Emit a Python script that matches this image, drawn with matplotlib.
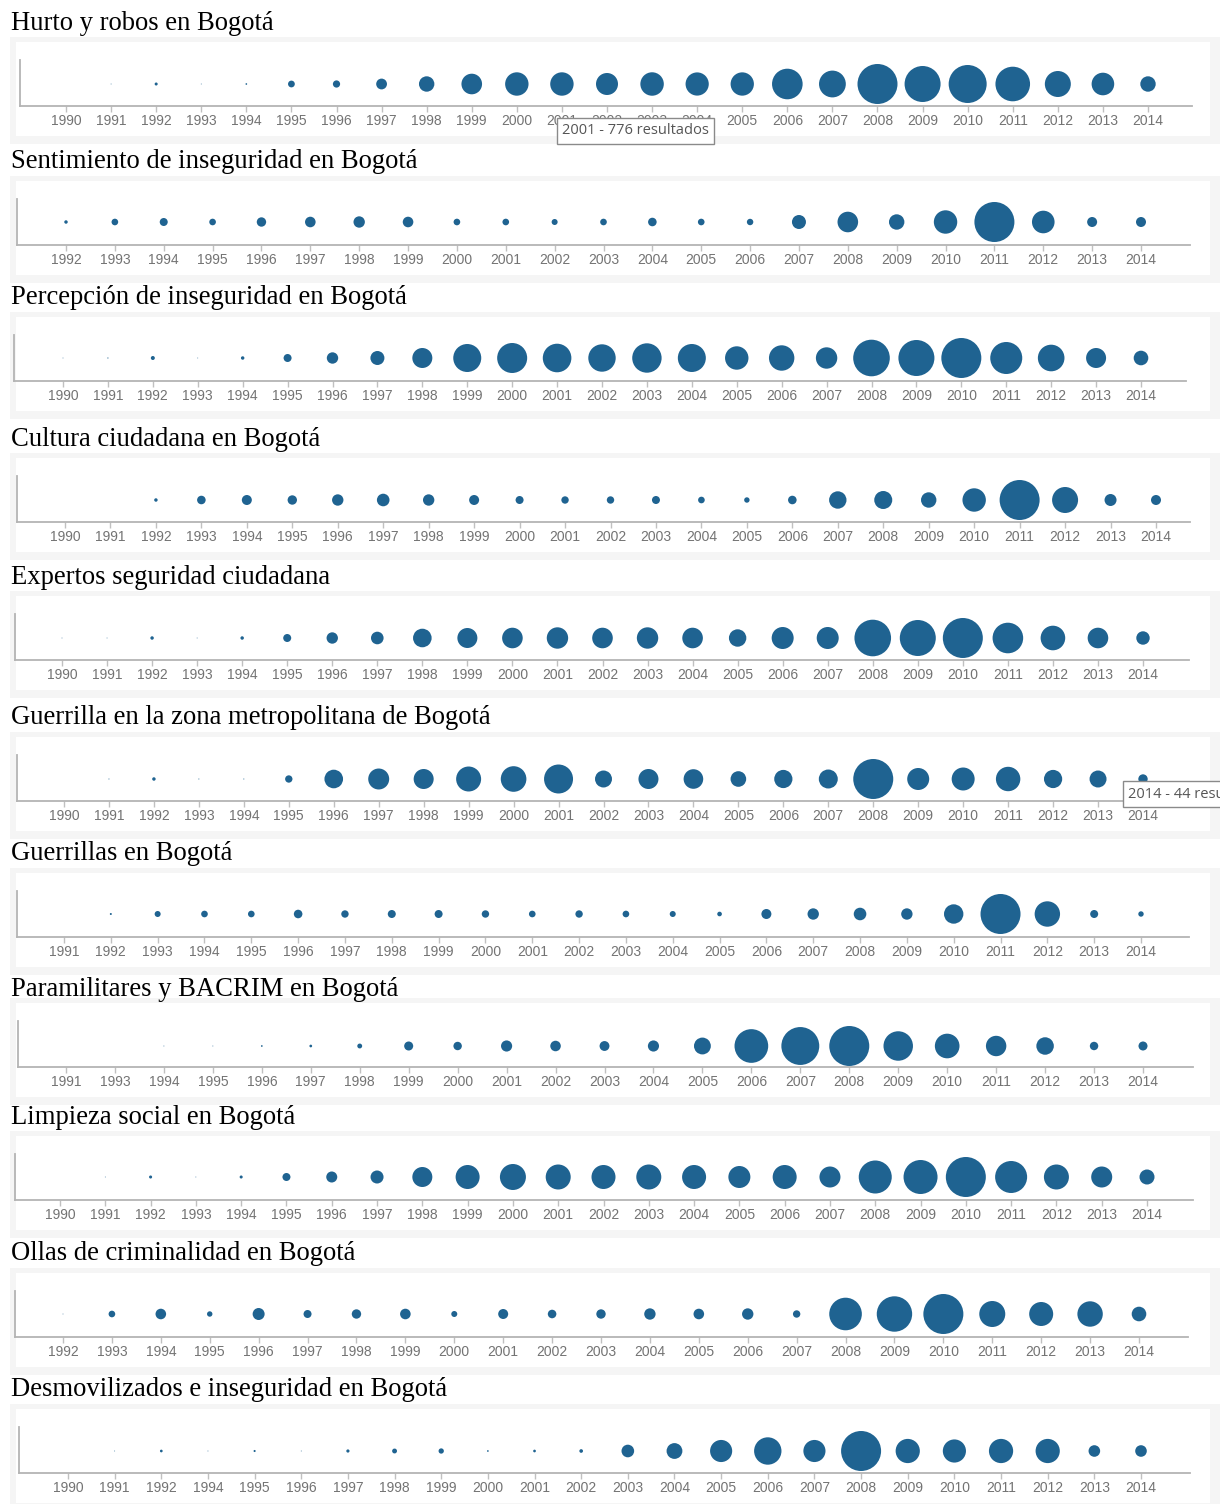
import numpy as np
import matplotlib.pyplot as plt
from matplotlib.patches import Rectangle

W, H = 1220, 1504

# ---- data: estimated number of results per year for each search ----
titles = [
    "Hurto y robos en Bogotá",
    "Sentimiento de inseguridad en Bogotá",
    "Percepción de inseguridad en Bogotá",
    "Cultura ciudadana en Bogotá",
    "Expertos seguridad ciudadana",
    "Guerrilla en la zona metropolitana de Bogotá",
    "Guerrillas en Bogotá",
    "Paramilitares y BACRIM en Bogotá",
    "Limpieza social en Bogotá",
    "Ollas de criminalidad en Bogotá",
    "Desmovilizados e inseguridad en Bogotá",
]

years_1990 = list(range(1990, 2015))
years_1991 = list(range(1991, 2015))
years_1992 = list(range(1992, 2015))
years_paramilitares = [1991] + list(range(1993, 2015))
years_desmovilizados = [1990, 1991, 1992] + list(range(1994, 2015))

hurto = [0, 1, 13, 1, 4, 65, 74, 165, 336, 602, 776, 776, 686, 780, 763,
         770, 1327, 1018, 2268, 1837, 2047, 1697, 958, 724, 336]
sentimiento = [9, 33, 48, 33, 66, 84, 97, 84, 33, 33, 27, 33, 55, 33, 31,
               147, 318, 178, 411, 1200, 383, 75, 75]
percepcion = [0.5, 1, 12, 0.5, 9, 48, 97, 147, 300, 588, 675, 613, 563, 648, 588,
              411, 484, 343, 1005, 972, 1200, 768, 531, 300, 160]
cultura = [0, 0, 9, 55, 75, 66, 97, 119, 97, 75, 48, 41, 41, 48, 33,
           22, 55, 227, 243, 178, 411, 1200, 507, 108, 75]
expertos = [0.5, 0.5, 9, 0.5, 9, 48, 97, 119, 259, 300, 318, 343, 318, 343, 318,
            227, 363, 363, 1005, 972, 1200, 702, 454, 318, 135]
guerrilla_metro = [0, 0.5, 6, 0.5, 0.5, 27, 173, 220, 200, 312, 328, 420, 144, 200, 192,
                   122, 166, 180, 800, 242, 264, 298, 166, 144, 44]
guerrillas = [0, 3, 27, 33, 33, 55, 41, 48, 48, 41, 33, 41, 33, 27, 16,
              75, 97, 119, 97, 282, 1200, 484, 48, 22]
paramilitares = [0, 0, 0.5, 0.5, 2, 5, 16, 55, 48, 84, 75, 66, 84, 192, 768,
                 972, 1083, 588, 411, 282, 207, 48, 55]
limpieza = [0, 0.5, 7, 0.5, 7, 48, 91, 127, 300, 432, 507, 469, 432, 469, 432,
            363, 432, 331, 817, 867, 1200, 768, 469, 331, 169]
ollas = [0.5, 33, 84, 22, 108, 48, 66, 84, 27, 75, 55, 66, 97, 84, 97,
         41, 797, 940, 1200, 507, 432, 484, 160]
desmovilizados = [0, 0.5, 5, 0.5, 3, 0.5, 7, 16, 19, 2, 5, 9, 108, 169, 331,
                  507, 331, 1083, 397, 363, 397, 397, 91, 91]

panel_years = [years_1990, years_1992, years_1990, years_1990, years_1990, years_1990,
               years_1991, years_paramilitares, years_1990, years_1992, years_desmovilizados]
panel_values = [hurto, sentimiento, percepcion, cultura, expertos, guerrilla_metro,
                guerrillas, paramilitares, limpieza, ollas, desmovilizados]

tooltips = [(0, "2001 - 776 resultados"), (5, "2014 - 44 resultados")]

# ---- layout (pixels): axis y, bubble offset, left x, right x, first tick, last tick
layout = [
    (106, 22, 20, 1192, 66, 1148),
    (245, 23, 17, 1190, 66, 1141),
    (381, 23, 14, 1186, 63, 1141),
    (522, 22, 17, 1190, 65, 1156),
    (660, 22, 15, 1189, 62, 1143),
    (801, 22, 17, 1190, 64, 1143),
    (937, 23, 17, 1189, 64, 1141),
    (1067, 21, 18, 1193, 66, 1143),
    (1200, 23, 15, 1193, 60, 1147),
    (1337, 23, 15, 1188, 63, 1139),
    (1473, 22, 19, 1190, 68, 1141),
]
tooltip_pos = {0: (555, 131), 5: (1121, 794)}

BLUE = "#1f6391"
RMAX = 20.0
PANEL_H = 46

fig = plt.figure(figsize=(W / 100, H / 100), dpi=100)
fig.patch.set_facecolor("white")


def fx(x):
    return x / W


def fy(y):
    return 1 - y / H


for i, (title, years, vals) in enumerate(zip(titles, panel_years, panel_values)):
    A, off, L, R, first, last = layout[i]

    # grey frame and white plot area
    fig.patches.append(Rectangle((fx(10), fy(A + 38)), fx(1220) - fx(10), 107 / H,
                                 transform=fig.transFigure, fc="#f5f5f5", ec="none", zorder=-3))
    fig.patches.append(Rectangle((fx(16), fy(A + 30)), fx(1210) - fx(16), 94 / H,
                                 transform=fig.transFigure, fc="white", ec="none", zorder=-2))

    fig.text(fx(11), fy(A - 83 if i != 7 else A - 78), title, ha="left", va="center",
             fontsize=19.2, family="Liberation Serif", color="black")

    ax = fig.add_axes([fx(L), fy(A), (R - L) / W, PANEL_H / H])
    n = len(years)
    step = (last - first) / (n - 1)
    xmin = -(first - L) / step
    xmax = xmin + (R - L) / step
    ax.set_xlim(xmin, xmax)
    ax.set_ylim(0, PANEL_H)

    x = np.arange(n)
    v = np.array(vals, dtype=float)
    r = RMAX * np.sqrt(v / v.max())
    ax.scatter(x, np.full(n, off), s=(2 * r * 0.72) ** 2, color=BLUE,
               linewidths=0, clip_on=False, zorder=3)

    ax.set_xticks(x)
    ax.set_xticklabels([str(y) for y in years], family="Liberation Sans")
    ax.tick_params(axis="x", length=4, width=1, color="#c0c0c0",
                   labelcolor="#737373", labelsize=10, pad=1.5)
    ax.set_yticks([])
    ax.spines["top"].set_visible(False)
    ax.spines["right"].set_visible(False)
    for side in ["left", "bottom"]:
        ax.spines[side].set_color("#b4b4b4")
        ax.spines[side].set_linewidth(1.3)
    ax.patch.set_alpha(0)

for idx, label in tooltips:
    tx, ty = tooltip_pos[idx]
    fig.text(fx(tx + 7), fy(ty), label, ha="left", va="center", fontsize=10.5,
             family="Open Sans", color="#555555", zorder=20,
             bbox=dict(boxstyle="square,pad=0.35", fc="white", ec="#8a8a8a", lw=1))

fig.savefig("out.png", dpi=100)
